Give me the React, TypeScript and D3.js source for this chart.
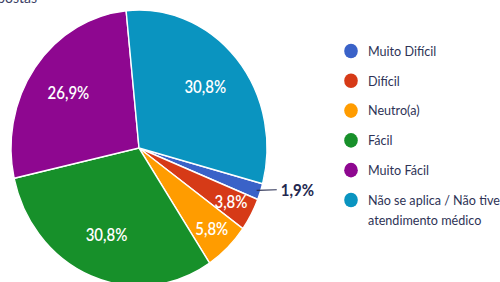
import React from 'react'
import * as d3 from 'd3'

// answer counts (52 respostas)
const categories = ['Muito Difícil', 'Difícil', 'Neutro(a)', 'Fácil', 'Muito Fácil', 'Não se aplica / Não tive atendimento médico']
const counts = [1, 2, 3, 16, 14, 16]
const labels = ['1,9%', '3,8%', '5,8%', '30,8%', '26,9%', '30,8%']
const colors = ['#3a62c8', '#d63a17', '#ff9c00', '#17902a', '#8e0790', '#0a94c0']
const legendLines = [['Muito Difícil'], ['Difícil'], ['Neutro(a)'], ['Fácil'], ['Muito Fácil'], ['Não se aplica / Não tive', 'atendimento médico']]

const W = 500
const H = 282
const stretch = 1.078 // the source image is a little taller than wide
const cx = 139
const cy = 137.3
const radius = 128
const font = 'Lato, "Open Sans", sans-serif'

export default function App() {
  const pie = d3.pie<number>()
    .sort(null)
    .startAngle((105 * Math.PI) / 180)
    .endAngle((105 * Math.PI) / 180 + 2 * Math.PI)
  const arcs = pie(counts)
  const arc = d3.arc<d3.PieArcDatum<number>>().innerRadius(0).outerRadius(radius)

  const labelArc = (r: number) => d3.arc<d3.PieArcDatum<number>>().innerRadius(r).outerRadius(r)

  const legendY = d3.scaleLinear().domain([0, 5]).range([47.3, 185.5])

  return (
    <svg width={W} height={H} style={{ position: 'absolute', left: 0, top: 0, background: '#fff' }}>
      <g transform={`scale(1,${stretch})`} fontFamily={font}>
        <text x={37} y={2.6} textAnchor="end" fontSize={14} fill="#3c3f66">52 respostas</text>
        <g transform={`translate(${cx},${cy})`}>
          {arcs.map((a, i) => (
            <path key={categories[i]} d={arc(a) || ''} fill={colors[i]} stroke="#fff" strokeWidth={1.4} />
          ))}
          {arcs.map((a, i) => {
            if (i === 0) {
              const [x1, y1] = labelArc(radius - 4).centroid(a)
              const [x2, y2] = labelArc(radius + 13).centroid(a)
              return (
                <g key={'l' + i}>
                  <line x1={x1} y1={y1} x2={x2 + 4} y2={y2 - 6} stroke="#2e3356" strokeWidth={1} />
                  <text x={x2 + 8} y={y2 - 5.5} dy="0.35em" fontSize={15} fontWeight={700} fill="#23284f">{labels[i]}</text>
                </g>
              )
            }
            const r = counts[i] < 5 ? 105 : 87
            const [x, y] = labelArc(r).centroid(a)
            return (
              <text key={'l' + i} x={x} y={y} dy="0.35em" textAnchor="middle" fontSize={15} fontWeight={600} fill="#fff">{labels[i]}</text>
            )
          })}
        </g>
        {legendLines.map((lines, i) => (
          <g key={categories[i]} transform={`translate(351,${legendY(i)})`}>
            <circle r={6.8} fill={colors[i]} />
            {lines.map((t, j) => (
              <text key={t} x={17} y={j * 19} dy="0.35em" fontSize={12.6} fill="#2e3356">{t}</text>
            ))}
          </g>
        ))}
      </g>
    </svg>
  )
}
